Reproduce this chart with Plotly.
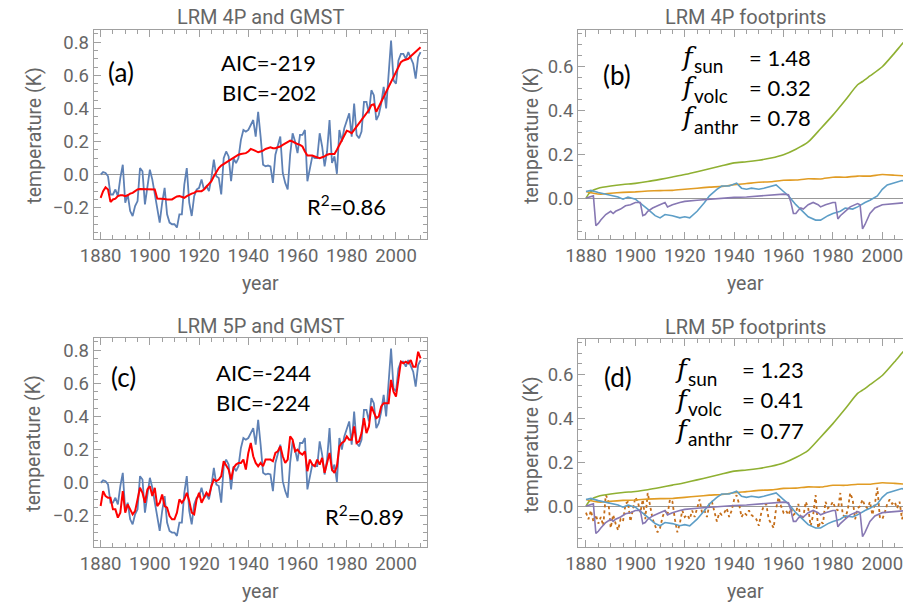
import plotly.graph_objects as go

years = list(range(1880, 2011))

gmst = [0.00, 0.015, 0.01, -0.01, -0.12, -0.12, -0.09, -0.13, -0.02, 0.06,
        -0.17, -0.12, -0.22, -0.25, -0.19, -0.16, 0.04, 0.02, -0.18, -0.07,
        0.03, -0.03, -0.12, -0.22, -0.29, -0.17, -0.08, -0.24, -0.29, -0.30,
        -0.30, -0.32, -0.24, -0.24, -0.06, 0.04, -0.17, -0.25, -0.13, -0.09,
        -0.08, -0.03, -0.09, -0.07, -0.10, -0.02, 0.09, -0.01, -0.02, -0.12,
        0.10, 0.14, 0.11, -0.04, 0.10, 0.07, 0.10, 0.21, 0.27, 0.26,
        0.27, 0.30, 0.33, 0.23, 0.38, 0.23, 0.06, 0.05, 0.055, 0.05,
        -0.05, 0.12, 0.18, 0.23, 0.01, -0.05, -0.09, 0.12, 0.25, 0.20,
        0.13, 0.24, 0.24, 0.27, -0.04, 0.04, 0.11, 0.10, 0.10, 0.25,
        0.17, 0.05, 0.14, 0.33, 0.07, 0.11, 0.005, 0.27, 0.20, 0.28,
        0.32, 0.37, 0.23, 0.43, 0.24, 0.22, 0.26, 0.44, 0.44, 0.37,
        0.51, 0.48, 0.33, 0.36, 0.43, 0.53, 0.40, 0.62, 0.81, 0.57,
        0.55, 0.69, 0.73, 0.73, 0.70, 0.74, 0.70, 0.67, 0.58, 0.71,
        0.74]

lrm4 = [-0.14, -0.10, -0.077, -0.09, -0.165, -0.15, -0.145, -0.13, -0.125, -0.125,
        -0.13, -0.125, -0.115, -0.11, -0.10, -0.09, -0.087, -0.087, -0.09, -0.087,
        -0.087, -0.087, -0.09, -0.145, -0.145, -0.145, -0.147, -0.15, -0.15, -0.15,
        -0.14, -0.132, -0.13, -0.137, -0.14, -0.13, -0.12, -0.115, -0.11, -0.10,
        -0.10, -0.10, -0.09, -0.075, -0.06, -0.04, -0.01, 0.02, 0.04, 0.055,
        0.065, 0.07, 0.08, 0.09, 0.10, 0.11, 0.12, 0.125, 0.128, 0.13,
        0.14, 0.155, 0.15, 0.14, 0.135, 0.14, 0.145, 0.155, 0.16, 0.165,
        0.16, 0.16, 0.165, 0.17, 0.18, 0.19, 0.20, 0.205, 0.20, 0.19,
        0.185, 0.18, 0.17, 0.14, 0.115, 0.115, 0.115, 0.11, 0.105, 0.10,
        0.105, 0.11, 0.12, 0.125, 0.125, 0.125, 0.15, 0.18, 0.21, 0.24,
        0.265, 0.26, 0.25, 0.27, 0.29, 0.31, 0.33, 0.35, 0.37, 0.39,
        0.42, 0.425, 0.38, 0.41, 0.44, 0.47, 0.50, 0.53, 0.56, 0.59,
        0.62, 0.655, 0.68, 0.69, 0.695, 0.70, 0.715, 0.73, 0.74, 0.755,
        0.77]

lrm5 = [-0.14, -0.05, -0.08, -0.09, -0.09, -0.16, -0.16, -0.21, -0.18, -0.05,
        -0.18, -0.13, -0.16, -0.19, -0.17, -0.10, -0.03, -0.06, -0.12, -0.04,
        -0.02, -0.08, -0.03, -0.14, -0.12, -0.07, -0.14, -0.15, -0.20, -0.22,
        -0.22, -0.18, -0.10, -0.12, -0.10, -0.06, -0.11, -0.18, -0.19, -0.10,
        -0.06, -0.12, -0.09, -0.06, -0.08, -0.02, 0.02, 0.01, 0.02, 0.04,
        0.13, 0.10, 0.08, 0.02, 0.09, 0.11, 0.12, 0.12, 0.14, 0.08,
        0.18, 0.24, 0.16, 0.12, 0.10, 0.12, 0.10, 0.14, 0.14, 0.14,
        0.13, 0.18, 0.19, 0.22, 0.16, 0.12, 0.14, 0.28, 0.26, 0.19,
        0.20, 0.18, 0.17, 0.19, 0.07, 0.14, 0.11, 0.10, 0.14, 0.11,
        0.15, 0.06, 0.12, 0.18, 0.08, 0.06, 0.10, 0.22, 0.24, 0.25,
        0.28, 0.26, 0.26, 0.34, 0.24, 0.25, 0.30, 0.39, 0.30, 0.34,
        0.46, 0.43, 0.39, 0.40, 0.46, 0.48, 0.48, 0.48, 0.62, 0.55,
        0.52, 0.62, 0.73, 0.72, 0.73, 0.72, 0.74, 0.70, 0.70, 0.79,
        0.75]

anthr_years = [1880, 1881, 1882, 1885, 1890, 1895, 1900, 1905, 1910, 1915, 1920, 1925,
               1930, 1935, 1940, 1945, 1950, 1955, 1960, 1965, 1970, 1975, 1980, 1985,
               1990, 1992, 1995, 2000, 2005, 2008, 2010]
anthr = [0.0, 0.018, 0.03, 0.045, 0.055, 0.062, 0.067, 0.075, 0.085, 0.096, 0.107, 0.12,
         0.133, 0.147, 0.16, 0.165, 0.172, 0.182, 0.197, 0.222, 0.255, 0.315, 0.377, 0.445,
         0.515, 0.53, 0.555, 0.597, 0.66, 0.70, 0.725]

sun_years = [1880, 1883, 1886, 1890, 1895, 1900, 1905, 1910, 1915, 1920, 1925, 1930,
             1935, 1940, 1945, 1950, 1955, 1960, 1965, 1970, 1975, 1980, 1985, 1990,
             1995, 2000, 2005, 2010]
sun = [0.03, 0.022, 0.018, 0.022, 0.026, 0.028, 0.032, 0.034, 0.035, 0.04, 0.045, 0.05,
       0.053, 0.061, 0.066, 0.072, 0.074, 0.081, 0.082, 0.088, 0.087, 0.095, 0.095, 0.10,
       0.10, 0.107, 0.104, 0.10]

ocean_years = [1880, 1882, 1885, 1890, 1893, 1895, 1897, 1900, 1903, 1905, 1908, 1910,
               1912, 1915, 1918, 1920, 1922, 1925, 1928, 1930, 1933, 1935, 1938, 1940,
               1941, 1943, 1945, 1947, 1950, 1952, 1955, 1957, 1960, 1962, 1965, 1968,
               1970, 1973, 1975, 1978, 1980, 1983, 1985, 1988, 1990, 1993, 1995, 1998,
               2000, 2002, 2005, 2008, 2010]
ocean = [0.03, 0.035, 0.025, 0.012, 0.005, -0.005, 0.005, -0.005, -0.03, -0.05, -0.08, -0.09,
         -0.075, -0.08, -0.09, -0.085, -0.09, -0.06, -0.02, 0.01, 0.04, 0.055, 0.055, 0.065,
         0.068, 0.045, 0.04, 0.045, 0.04, 0.045, 0.055, 0.06, 0.03, 0.01, -0.03, -0.065,
         -0.085, -0.10, -0.10, -0.08, -0.07, -0.06, -0.045, -0.05, -0.04, -0.02, -0.01, 0.01,
         0.04, 0.06, 0.07, 0.08, 0.075]

volc_years = [1880, 1882, 1883, 1884, 1885, 1886, 1887, 1888, 1890, 1891, 1892, 1894,
              1896, 1898, 1900, 1902, 1903, 1904, 1905, 1907, 1909, 1911, 1912, 1913,
              1915, 1918, 1920, 1925, 1930, 1935, 1940, 1945, 1950, 1955, 1960, 1962,
              1963, 1964, 1965, 1966, 1967, 1968, 1970, 1972, 1974, 1975, 1977, 1980,
              1981, 1982, 1983, 1985, 1987, 1990, 1991, 1992, 1993, 1995, 1997, 2000,
              2005, 2010]
volc = [0.0, 0.005, 0.01, -0.125, -0.115, -0.10, -0.085, -0.075, -0.06, -0.07, -0.06, -0.05,
        -0.035, -0.03, -0.02, -0.02, -0.08, -0.075, -0.06, -0.045, -0.035, -0.025, -0.02, -0.04,
        -0.03, -0.02, -0.015, -0.01, -0.005, 0.0, 0.003, 0.005, 0.01, 0.012, 0.018, 0.015,
        -0.02, -0.07, -0.07, -0.055, -0.045, -0.05, -0.03, -0.02, -0.03, -0.04, -0.03, -0.02,
        -0.02, -0.095, -0.08, -0.06, -0.04, -0.025, -0.03, -0.14, -0.12, -0.07, -0.045, -0.03,
        -0.025, -0.02]

enso = [-0.03, -0.06, -0.02, -0.07, -0.04, -0.08, -0.05, -0.09, 0.05, 0.03,
        -0.10, -0.04, -0.08, -0.11, -0.06, -0.07, 0.01, 0.02, -0.07, -0.02,
        0.04, 0.02, -0.03, 0.03, -0.06, 0.06, 0.00, -0.06, -0.09, -0.12,
        -0.10, -0.05, -0.02, -0.04, 0.03, 0.02, -0.06, -0.12, -0.08, -0.02,
        -0.05, -0.04, -0.06, -0.02, -0.05, -0.01, 0.03, -0.03, -0.02, -0.05,
        0.01, 0.02, -0.02, -0.07, -0.03, -0.04, -0.03, -0.01, -0.05, -0.02,
        0.03, 0.05, 0.01, -0.05, -0.03, -0.04, -0.02, -0.04, -0.05, -0.06,
        -0.09, -0.03, 0.00, 0.01, -0.06, -0.08, -0.10, -0.01, 0.04, 0.00,
        -0.03, -0.02, -0.04, -0.01, -0.04, -0.03, 0.01, -0.06, -0.05, 0.02,
        -0.01, -0.09, -0.04, 0.05, -0.10, -0.07, -0.08, 0.02, -0.01, 0.00,
        0.02, -0.01, -0.02, 0.06, -0.04, -0.05, -0.02, 0.06, 0.03, -0.06,
        -0.01, 0.00, 0.03, 0.00, -0.01, 0.02, -0.04, 0.01, 0.085, -0.05,
        -0.06, -0.03, 0.01, 0.03, 0.01, 0.02, -0.01, 0.02, -0.06, -0.01,
        0.04]

titles = ["LRM 4P and GMST", "LRM 4P footprints", "LRM 5P and GMST", "LRM 5P footprints"]

W, H = 903, 602
BLUE, RED = "#5e81b5", "#ff0000"
GREEN, ORANGE, LBLUE, PURPLE, DORANGE = "#8fb032", "#e19c24", "#5d9ec7", "#8778b3", "#c56e1a"
FRAME = "#a0a0a0"
GREY = "#666666"
GF = "Roboto"
TICKFONT = dict(family=GF, size=18.5, color=GREY)


def px(x0, x1):
    return [max(0.0, x0 / W), min(1.0, x1 / W)]


def py(top, bottom):
    return [max(0.0, 1 - bottom / H), min(1.0, 1 - top / H)]


fig = go.Figure()

fig.add_trace(go.Scatter(x=years, y=gmst, mode="lines", line=dict(color=BLUE, width=1.8), xaxis="x", yaxis="y"))
fig.add_trace(go.Scatter(x=years, y=lrm4, mode="lines", line=dict(color=RED, width=2), xaxis="x", yaxis="y"))
fig.add_trace(go.Scatter(x=years, y=gmst, mode="lines", line=dict(color=BLUE, width=1.8), xaxis="x3", yaxis="y3"))
fig.add_trace(go.Scatter(x=years, y=lrm5, mode="lines", line=dict(color=RED, width=2), xaxis="x3", yaxis="y3"))

for xa, ya, with_enso in (("x2", "y2", False), ("x4", "y4", True)):
    if with_enso:
        fig.add_trace(go.Scatter(x=years, y=enso, mode="lines",
                                 line=dict(color=DORANGE, width=1.8, dash="dot"), xaxis=xa, yaxis=ya))
    fig.add_trace(go.Scatter(x=anthr_years, y=anthr, mode="lines", line=dict(color=GREEN, width=1.6, shape="spline", smoothing=0.6), xaxis=xa, yaxis=ya))
    fig.add_trace(go.Scatter(x=sun_years, y=sun, mode="lines", line=dict(color=ORANGE, width=1.6, shape="spline", smoothing=0.5), xaxis=xa, yaxis=ya))
    fig.add_trace(go.Scatter(x=ocean_years, y=ocean, mode="lines", line=dict(color=LBLUE, width=1.6), xaxis=xa, yaxis=ya))
    fig.add_trace(go.Scatter(x=volc_years, y=volc, mode="lines", line=dict(color=PURPLE, width=1.6), xaxis=xa, yaxis=ya))


def xaxis(domain, rng, anchor):
    return dict(domain=domain, range=rng, anchor=anchor, showgrid=False, zeroline=False,
                showline=True, linecolor=FRAME, linewidth=1, mirror="allticks",
                ticks="inside", ticklen=7, tickcolor=FRAME, tickwidth=1,
                tick0=1880, dtick=20, tickfont=TICKFONT, ticklabeloverflow="allow",
                minor=dict(ticks="inside", ticklen=4, tickcolor=FRAME, dtick=5, tick0=1880, showgrid=False))


def yaxis(domain, rng, anchor, mirror):
    return dict(domain=domain, range=rng, anchor=anchor, showgrid=False,
                zeroline=True, zerolinecolor="#999999", zerolinewidth=1,
                showline=True, linecolor=FRAME, linewidth=1, mirror=mirror,
                ticks="inside", ticklen=7, tickcolor=FRAME, tickwidth=1,
                tick0=0, dtick=0.2, tickformat=".1f", tickfont=TICKFONT,
                minor=dict(ticks="inside", ticklen=4, tickcolor=FRAME, dtick=0.05, tick0=0, showgrid=False))


# right panels: frame starts at x 573, 1880 at 581, 2.508 px/yr; the frame runs past the right edge
xr_right = [1880 - 8 / 2.508, 1880 + (903 - 581) / 2.508]

fig.update_layout(
    width=W, height=H, margin=dict(l=0, r=0, t=0, b=0),
    paper_bgcolor="white", plot_bgcolor="white", showlegend=False,
    xaxis=xaxis(px(81, 420), [1877.2, 2012.8], "y"),
    yaxis=yaxis(py(30, 239), [-0.389, 0.874], "x", "allticks"),
    xaxis2=xaxis(px(573, 903), xr_right, "y2"),
    yaxis2=yaxis(py(30, 239), [-0.186, 0.764], "x2", False),
    xaxis3=xaxis(px(81, 420), [1877.2, 2012.8], "y3"),
    yaxis3=yaxis(py(338, 547), [-0.387, 0.873], "x3", "allticks"),
    xaxis4=xaxis(px(573, 903), xr_right, "y4"),
    yaxis4=yaxis(py(339, 547), [-0.187, 0.764], "x4", False),
)

ann = []


def A(text, x, y, size, color="black", family="Lato", xanchor="center", angle=0):
    ann.append(dict(text=text, x=x / W, y=1 - y / H, xref="paper", yref="paper",
                    showarrow=False, xanchor=xanchor, yanchor="middle", textangle=angle,
                    font=dict(family=family, size=size, color=color)))


A(titles[0], 250, 17, 20, GREY, GF)
A(titles[1], 743, 17, 20, GREY, GF)
A(titles[2], 250, 326, 20, GREY, GF)
A(titles[3], 743, 327, 20, GREY, GF)
for cx, cy in ((250, 283), (743, 283), (250, 591), (743, 591)):
    A("year", cx, cy, 19.5, GREY, GF)
for cx, cy in ((20, 136), (525, 136), (20, 444), (525, 445)):
    A("temperature (K)", cx, cy, 19.5, GREY, GF, angle=-90)

A("(a)", 109, 72, 26)
A("(b)", 613, 75, 26)
A("(c)", 111, 377, 26)
A("(d)", 614, 377, 26)

A("AIC=-219", 259, 62, 22)
A("BIC=-202", 259, 92, 22)
A("R<sup>2</sup>=0.86", 338, 205, 22)
A("AIC=-244", 253, 372, 22)
A("BIC=-224", 253, 402, 22)
A("R<sup>2</sup>=0.89", 356, 515, 22)

SERIF = "DejaVu Serif"
labels_b = [("sun", "= 1.48"), ("volc", "= 0.32"), ("anthr", "= 0.78")]
labels_d = [("sun", "= 1.23"), ("volc", "= 0.41"), ("anthr", "= 0.77")]
for i, (sub, val) in enumerate(labels_b):
    yc = 57 + 30 * i
    A("<i>f</i>", 675, yc, 26, "black", SERIF, xanchor="left")
    A(sub, 689, yc + 9, 19, "black", "Lato", xanchor="left")
    A(val, 745, yc, 22, "black", "Lato", xanchor="left")
for i, (sub, val) in enumerate(labels_d):
    yc = 369 + 30.5 * i
    A("<i>f</i>", 669, yc, 26, "black", SERIF, xanchor="left")
    A(sub, 683, yc + 9, 19, "black", "Lato", xanchor="left")
    A(val, 737, yc, 22, "black", "Lato", xanchor="left")

fig.update_layout(annotations=ann)
fig.write_html("out.html", config={"displayModeBar": False},
               post_script="document.body.style.margin='0';document.body.style.overflow='hidden';")
